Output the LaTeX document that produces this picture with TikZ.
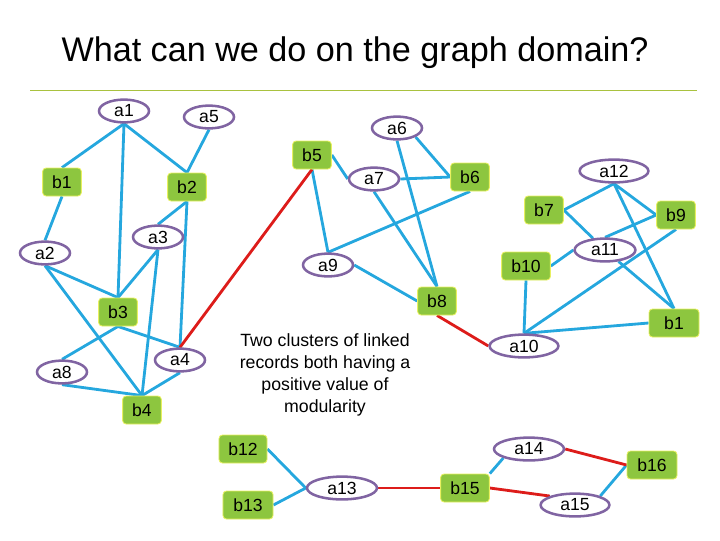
\documentclass[tikz,border=0pt]{standalone}
\usepackage{fontspec}
\setmainfont{Liberation Sans}
\usetikzlibrary{shapes.geometric, backgrounds}
\definecolor{grblue}{HTML}{25A7DE}
\definecolor{grred}{HTML}{DD1C1A}
\definecolor{grpurple}{HTML}{8064A2}
\definecolor{grgreen}{HTML}{8DC63F}
\definecolor{gryellow}{HTML}{E8F060}
\definecolor{grrule}{HTML}{A9C23F}

\begin{document}
\begin{tikzpicture}[x=0.025cm, y=-0.025cm,
    rec/.style={ellipse, draw=grpurple, line width=1.8pt, fill=white, inner sep=0pt,
                minimum width=#1, minimum height=0.57cm, font=\fontsize{12.5}{14}\selectfont},
    rec/.default=1.25cm,
    ent/.style={rectangle, rounded corners=2.5pt, draw=gryellow, line width=0.6pt, fill=grgreen,
                inner sep=0pt, minimum width=#1, minimum height=0.7cm, font=\fontsize{12.5}{14}\selectfont},
    ent/.default=0.97cm,
    link/.style={line width=2pt, grblue},
    cut/.style={line width=2pt, grred},
]
    \useasboundingbox (0,0) rectangle (720,540);

    % === title ===
    \node[font=\fontsize{24.3}{27}\selectfont] (title) at (355,53) {What can we do on the graph domain?};
    \draw[grrule, line width=0.7pt] (30,90) -- (697,90);

    % === first cluster (left) ===
    \node[rec] (a1) at (124,111) {a1};
    \node[rec] (a5) at (209,117) {a5};
    \node[ent] (b1) at (62,182) {b1};
    \node[ent] (b2) at (187,187) {b2};
    \node[rec] (a3) at (158,237) {a3};
    \node[rec] (a2) at (45,253) {a2};
    \node[ent] (b3) at (118,312) {b3};
    \node[rec] (a4) at (180,360) {a4};
    \node[rec] (a8) at (62,372) {a8};
    \node[ent] (b4) at (142,410) {b4};

    % === second cluster (middle) ===
    \node[rec] (a6) at (397,128) {a6};
    \node[ent] (b5) at (312,155) {b5};
    \node[rec] (a7) at (374,179) {a7};
    \node[ent] (b6) at (470,177) {b6};
    \node[rec] (a9) at (328,265) {a9};
    \node[ent] (b8) at (437,301) {b8};

    % === third cluster (right) ===
    \node[rec=1.72cm] (a12) at (614,171) {a12};
    \node[ent] (b7) at (544,210) {b7};
    \node[ent] (b9) at (676,215) {b9};
    \node[rec=1.52cm] (a11) at (605,250) {a11};
    \node[ent=1.22cm] (b10) at (526,266) {b10};
    \node[ent=1.25cm] (b1x) at (674,323) {b1};
    \node[rec=1.72cm] (a10) at (524,346) {a10};

    % === bottom pair ===
    \node[ent=1.2cm] (b12) at (243,449) {b12};
    \node[ent=1.25cm] (b13) at (248,505) {b13};
    \node[rec=1.75cm] (a13) at (342,488) {a13};
    \node[ent=1.22cm] (b15) at (465,488) {b15};
    \node[rec=1.75cm] (a14) at (529,449) {a14};
    \node[ent=1.25cm] (b16) at (652,465) {b16};
    \node[rec=1.72cm] (a15) at (575,505) {a15};

    \node[align=center, font=\fontsize{12.6}{15.5}\selectfont] (note) at (325,375)
        {Two clusters of linked\\records both having a\\positive value of\\modularity};

    \begin{scope}[on background layer]
        % left cluster links
        \draw[link] (a1.south) -- (b1.north);
        \draw[link] (a1.south) -- (b3.north);
        \draw[link] (a1.south) -- (b2.north);
        \draw[link] (a5.south) -- (b2.north);
        \draw[link] (b1.south) -- (a2.north);
        \draw[link] (b2.south) -- (a3.north);
        \draw[link] (b2.south) -- (a4.north);
        \draw[link] (a3.south) -- (b3.north);
        \draw[link] (a3.south) -- (b4.north);
        \draw[link] (a2.south) -- (b3.north);
        \draw[link] (a2.south) -- (b4.north);
        \draw[link] (b3.south) -- (a8.north);
        \draw[link] (b3.south) -- (a4.north);
        \draw[link] (a8.south) -- (b4.north);
        \draw[link] (a4.south) -- (b4.north);
        % middle cluster links
        \draw[link] (b5.east) -- (a7.west);
        \draw[link] (b5.south) -- (a9.north);
        \draw[link] (a6.south east) -- (b6.west);
        \draw[link] (a6.south) -- (b8.north);
        \draw[link] (a7.east) -- (b6.west);
        \draw[link] (a7.south) -- (b8.north);
        \draw[link] (b6.south) -- (a9.north);
        \draw[link] (a9.east) -- (b8.west);
        % right cluster links
        \draw[link] (a12.south) -- (b7.east);
        \draw[link] (a12.south) -- (b9.west);
        \draw[link] (a12.south) -- (b1x.north);
        \draw[link] (b7.east) -- (a11);
        \draw[link] (a11) -- (b1x.north);
        \draw[link] (b9.west) -- (a11.north);
        \draw[link] (b9.south) -- (a10.north);
        \draw[link] (b10.east) -- (a11.west);
        \draw[link] (b10.south) -- (a10.north);
        \draw[link] (a10.north) -- (b1x.west);
        % bottom links
        \draw[link] (b12.east) -- (a13.west);
        \draw[link] (b13.east) -- (a13.west);
        \draw[link] (b15.north east) -- (a14.south west);
        \draw[link] (a15.north east) -- (b16.west);
        % cut links (red)
        \draw[cut] (a4.north) -- (b5.south);
        \draw[cut] (b8.south) -- (a10.west);
        \draw[cut] (a13.east) -- (b15.west);
        \draw[cut] (b15.east) -- (a15.north west);
        \draw[cut] (a14.east) -- (b16.west);
    \end{scope}
\end{tikzpicture}
\end{document}
